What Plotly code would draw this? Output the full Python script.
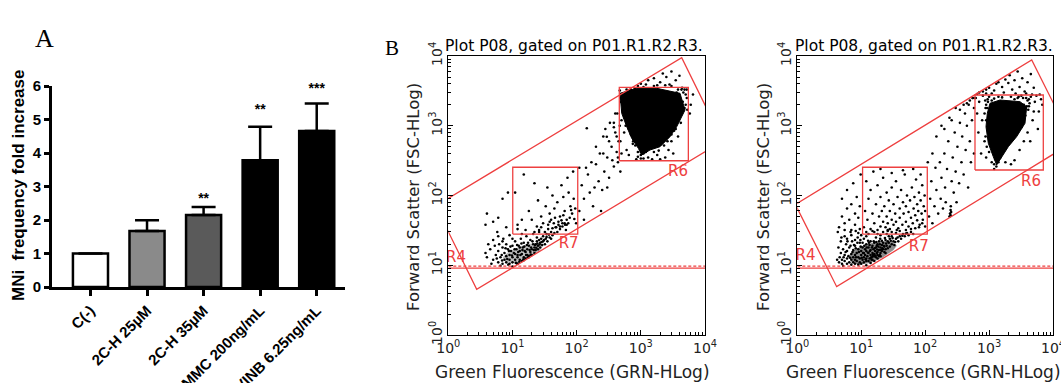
import plotly.graph_objects as go

W, H = 1061, 383
RED = "rgb(238,64,64)"

# ---------------- Panel A data ----------------
categories = ["C(-)", "2C-H 25µM", "2C-H 35µM", "MMC 200ng/mL", "VINB 6.25ng/mL"]
fold_increase = [1.0, 1.67, 2.15, 3.78, 4.66]
error_upper = [0.0, 0.32, 0.24, 1.0, 0.82]
significance = ["", "", "**", "**", "***"]
star_y = [None, None, 2.62, 5.27, 5.9]
bar_colors = ["#ffffff", "#8a8a8a", "#5a5a5a", "#000000", "#000000"]

# ---------------- Panel B data (flow cytometry) ----------------
decade_vals = [1, 10, 100, 1000, 10000]
decade_text = ["10<sup>0</sup>", "10<sup>1</sup>", "10<sup>2</sup>", "10<sup>3</sup>", "10<sup>4</sup>"]
plot_title = "Plot P08, gated on P01.R1.R2.R3."

# gates, plot 1
p1_r4_x = [0.634, 4335, 18923, 2.77, 0.634]
p1_r4_y = [70.8, 9462, 604, 4.52, 70.8]
p1_r6_x = [462, 5500, 5500, 462, 462]
p1_r6_y = [315, 315, 3560, 3560, 315]
p1_r7_x = [10.1, 104, 104, 10.1, 10.1]
p1_r7_y = [28, 28, 254, 254, 28]
p1_labels = ["R4", "R6", "R7"]
p1_label_x = [1.32, 3800, 75]
p1_label_y = [12.7, 219, 19.8]

# gates, plot 2
p2_r4_x = [0.934, 4645, 20560, 4.13, 0.934]
p2_r4_y = [74.3, 8770, 582, 4.93, 74.3]
p2_r6_x = [602, 7050, 7050, 602, 602]
p2_r6_y = [232, 232, 2760, 2760, 232]
p2_r7_x = [10.5, 108, 108, 10.5, 10.5]
p2_r7_y = [28, 28, 254, 254, 28]
p2_labels = ["R4", "R6", "R7"]
p2_label_x = [1.34, 4520, 79.5]
p2_label_y = [13.3, 154, 18.2]

# horizontal threshold line (R4 level)
thr_x = [1, 10000]
thr_solid_y = [9.1, 9.1]
thr_dash_y = [9.7, 9.7]

# dense event cores (outline of the saturated black area)
p1_core_x = [474, 863, 1770, 4083, 4887, 3622, 2851, 1991, 1390, 1033, 914, 721, 603, 504, 474]
p1_core_y = [2917, 3443, 3443, 2917, 1683, 968, 697, 501, 449, 381, 475, 661, 968, 1507, 2917]
p2_core_x = [1033, 1483, 3048, 3873, 3648, 2698, 2000, 1574, 1315, 1164, 973, 895, 938, 1033]
p2_core_y = [2099, 2339, 2213, 1875, 1084, 697, 501, 360, 274, 360, 560, 968, 1507, 2099]
# crowded (but not saturated) area of the low-signal population
p1_low_core_x = [8, 12, 18, 26, 30, 22, 14, 9, 7, 8]
p1_low_core_y = [11, 10.6, 12.8, 15.5, 19, 21, 19, 16, 13, 11]
p2_low_core_x = [7, 9, 14, 22, 32, 36, 30, 20, 12, 8, 6.5, 7]
p2_low_core_y = [11, 10.2, 10.8, 13, 16.5, 19, 22, 22, 20, 17, 14, 11]

# individual events, plot 1
p1_low_cluster = [
    (5, 12), (5.5, 14), (6, 11), (6, 16), (6.5, 13), (7, 10.5), (7, 18), (7.5, 12), (7.5, 15), (8, 11),
    (8, 13.5), (8, 20), (8.5, 17), (9, 10.5), (9, 12), (9, 14), (9.5, 16), (10, 11), (10, 13), (10, 19),
    (10.5, 15), (11, 12), (11, 22), (11.5, 17), (12, 10.5), (12, 14), (12, 13), (12.5, 19), (13, 12), (13, 16),
    (13.5, 24), (14, 11.5), (14, 14.5), (14.5, 18), (15, 13), (15, 21), (16, 12.5), (16, 15.5), (16.5, 26), (17, 17),
    (17, 14), (18, 13.5), (18, 19), (19, 23), (19, 15.5), (20, 14), (20, 17), (21, 28), (21, 20), (22, 15),
    (22, 18), (23, 16.5), (24, 22), (24, 25), (25, 17), (25, 19), (26, 30), (27, 18), (27, 21), (28, 24),
    (29, 19.5), (30, 22), (30, 26), (32, 20), (33, 24), (34, 28), (35, 22), (36, 33), (38, 25), (40, 24),
    (40, 30), (42, 27), (45, 29), (47, 35), (50, 30), (52, 38), (55, 33), (60, 36), (65, 40), (70, 38),
    (4, 13), (4.5, 17), (4.2, 20), (5, 23), (6, 26), (7, 22), (5.8, 30), (9, 27), (10, 24), (8, 35),
    (12, 33), (14, 28), (4.7, 10.5), (6.5, 9.8), (10, 9.6), (12, 10.5), (15, 11.8), (18, 13), (3.8, 15), (5.3, 19),
    (7.2, 24), (6.8, 14), (8.8, 16), (11, 14.5), (13, 18), (15.5, 16), (17.5, 21), (19.5, 18), (23, 20), (26, 23),
    (5.7, 12.5), (6.2, 20), (6.9, 11.7), (7.8, 17.5), (8.3, 12.3), (8.6, 10.2), (9.3, 18.5), (9.8, 13.8), (10.8, 17),
    (11.3, 10.8), (11.8, 19.5), (12.3, 15.5), (12.8, 11.2), (13.3, 14), (13.8, 20.5), (14.3, 16.5), (14.8, 12.2),
    (15.3, 18.5), (16.3, 14), (16.8, 19.5), (17.3, 12.9), (18.5, 16.5), (19.2, 14.2), (20.5, 22), (21.5, 16.5),
    (22.5, 19.5), (23.5, 17.8), (24.5, 20.5), (26.5, 19.8), (28.5, 21.5), (31, 23), (34, 25.5), (37, 27.5),
]
p1_r7_events = [
    (12, 38), (11, 110), (15, 200), (18, 60), (20, 45), (22, 150), (25, 85), (28, 50), (30, 40), (33, 70),
    (35, 130), (38, 55), (40, 45), (42, 100), (45, 65), (48, 35), (50, 80), (55, 50), (58, 140), (60, 40),
    (62, 95), (65, 60), (70, 45), (72, 180), (75, 110), (80, 70), (85, 55), (88, 220), (90, 90), (95, 65),
    (98, 40), (14, 45), (16, 32), (24, 36), (26, 32), (32, 30), (44, 40), (52, 42), (66, 38), (78, 48),
    (92, 46), (68, 32), (55, 36), (4, 55), (5, 42), (3.8, 38), (6, 48), (7, 90), (8.5, 110),
    (36, 38), (42, 34), (46, 48), (58, 44), (62, 52), (74, 40), (82, 62), (28, 35), (22, 30), (38, 42),
]
p1_band_events = [
    (110, 60), (120, 140), (130, 90), (150, 200), (160, 110), (180, 70), (200, 280), (220, 160), (230, 400), (250, 120),
    (270, 220), (300, 350), (320, 180), (350, 500), (380, 260), (400, 800), (420, 420), (450, 600), (200, 500), (170, 300),
    (140, 250), (260, 700), (300, 130), (130, 45), (240, 60), (330, 1100), (280, 900), (400, 1500), (360, 320), (190, 130),
    (440, 300), (470, 1000), (480, 220), (110, 250), (144, 919), (295, 697), (260, 400), (320, 600), (380, 950),
]
p1_r6_events = [
    (800, 3400), (1000, 4000), (1300, 4500), (1600, 4800), (2000, 4200), (2500, 5000), (3000, 6000), (3500, 4500),
    (4000, 5200), (1200, 3900), (1800, 3800), (2200, 5600), (900, 3700), (2800, 3900),
    (480, 600), (500, 1200), (520, 2000), (550, 800), (560, 2800), (600, 450), (620, 1500), (650, 380), (700, 900),
    (720, 2500), (750, 550), (800, 1700), (500, 400), (540, 1600), (580, 1000), (660, 3000), (700, 3300), (480, 2500),
    (510, 2600), (3000, 600), (3500, 900), (4000, 1500), (4500, 2200), (5000, 2800), (3200, 400), (3800, 700),
    (4200, 1100), (4800, 1800), (5200, 3300), (3600, 3000), (4300, 3300), (3300, 1300), (2700, 450), (2400, 350),
    (1800, 380), (1500, 330), (1300, 350), (1100, 400), (900, 420), (850, 330), (2000, 330), (420, 700), (380, 1100),
    (430, 1500), (440, 350), (1000, 380), (1000, 420), (1020, 460), (1000, 340), (6000, 2000), (6500, 2800), (5800, 1500),
    (470, 3200), (490, 2200), (520, 1700), (560, 1300), (600, 1100), (650, 900), (700, 750), (760, 600), (820, 520),
    (900, 360), (1100, 340), (1200, 420), (1600, 420), (1900, 440), (2300, 520), (2600, 600), (3000, 750), (3300, 850),
    (3800, 1200), (4300, 1500), (5000, 2000), (5200, 2500), (4800, 3300), (4400, 3500), (3800, 3300), (3000, 3700),
    (2400, 3800), (1600, 3700), (1100, 3600), (600, 3300), (530, 2900), (4600, 3000), (5300, 1700),
]

# individual events, plot 2
p2_low_cluster = [
    (4.5, 11), (4.6, 13), (4.8, 15), (5, 10.5), (5, 12), (5.2, 17), (5.5, 11.5), (5.5, 14), (5.8, 20), (6, 10.5),
    (6, 12.5), (6, 16), (6.3, 13.5), (6.5, 11), (6.5, 18), (7, 10.2), (7, 12), (7, 14.5), (7.2, 22), (7.5, 11),
    (7.5, 13), (7.5, 16.5), (8, 10.5), (8, 12), (8, 14), (8, 19), (8.5, 11.5), (8.5, 15), (8.8, 25), (9, 10.2),
    (9, 13), (9, 17), (9.5, 11), (9.5, 12.5), (9.5, 21), (10, 10.5), (10, 14), (10, 16), (10.5, 12), (10.5, 18),
    (11, 11), (11, 13), (11, 15), (11, 24), (11.5, 14), (12, 11.5), (12, 12.5), (12, 16), (12, 20), (12.5, 13.5),
    (13, 11.5), (13, 15), (13, 18), (13.5, 12.5), (14, 14), (14, 16.5), (14, 22), (14.5, 13), (15, 12), (15, 15),
    (15, 19), (15.5, 17), (16, 13.5), (16, 14.5), (16, 21), (16.5, 16), (17, 13), (17, 18), (17, 25), (18, 14),
    (18, 15.5), (18, 20), (19, 16.5), (19, 22), (20, 15), (20, 18), (20, 27), (21, 16), (21, 19.5), (22, 17),
    (22, 21), (23, 15.5), (23, 18.5), (24, 17), (24, 23), (25, 19), (25, 28), (26, 17.5), (27, 21), (28, 18.5),
    (28, 24), (30, 20), (30, 26), (32, 22), (33, 19.5), (35, 24), (35, 29), (38, 22), (40, 26), (42, 24),
    (45, 28), (48, 26), (52, 29), (55, 27), (60, 30), (65, 28), (7, 27), (9, 29), (6, 24), (5.5, 26),
    (4.8, 22), (10, 27), (13, 28), (16, 30), (12, 26), (18, 28), (22, 30), (26, 32), (8, 23), (10.5, 21),
    (5.2, 9.8), (12, 10), (14, 10.8), (16, 11.5), (18, 12.5), (20, 13.5), (24, 15), (11.5, 17), (13.5, 19.5), (14.5, 12),
    (15.5, 13.5), (17.5, 15), (19.5, 14), (21.5, 17.5), (6.8, 19), (8.2, 17.5), (9.8, 18.5), (12.8, 22.5), (17.5, 19), (19.5, 20),
    (4.2, 12), (4.4, 18), (4.9, 25), (5.3, 13), (5.7, 15.5), (6.1, 22), (6.7, 12.8), (7.3, 15.5), (7.7, 19.5), (8.3, 13),
    (8.7, 21), (9.2, 15.5), (9.7, 23), (10.2, 12.8), (10.7, 15), (11.2, 19), (11.7, 12.2), (12.2, 18), (12.7, 15.2),
    (13.2, 21), (13.7, 16), (14.2, 12.8), (14.7, 18), (15.2, 14), (15.7, 22), (16.2, 17.5), (16.7, 13.8), (17.2, 21.5),
    (17.8, 16.8), (18.5, 18.5), (19, 13.5), (19.8, 24), (20.5, 16.5), (21, 22.5), (22.5, 19), (23.5, 24.5), (24.5, 20.5),
    (26, 22), (27, 26), (29, 22.5), (31, 24.5), (34, 21.5), (37, 25), (44, 26.5), (50, 28.5),
]
p2_r7_events = [
    (4.5, 35), (5, 50), (5, 90), (5.5, 40), (6, 65), (6, 120), (6.5, 45), (7, 32), (7, 75), (7.5, 150),
    (8, 55), (8, 38), (8.5, 95), (9, 48), (9.5, 70), (9.8, 200), (4.3, 30), (5.5, 32), (6.8, 30), (8.2, 31),
    (9.5, 33), (11, 35), (11.5, 60), (12, 160), (12.5, 45), (13, 90), (14, 33), (14, 120), (15, 55), (15.5, 220),
    (16, 40), (17, 75), (18, 32), (18, 140), (19, 50), (20, 36), (20, 95), (21, 60), (22, 42), (22, 180),
    (23, 70), (24, 35), (25, 110), (25, 50), (26, 40), (27, 85), (28, 33), (28, 60), (30, 130), (30, 45),
    (32, 38), (32, 75), (34, 55), (35, 160), (35, 42), (37, 95), (38, 34), (40, 65), (40, 48), (42, 120),
    (44, 38), (45, 80), (46, 55), (48, 200), (50, 42), (50, 70), (52, 100), (55, 36), (55, 58), (58, 85),
    (60, 48), (62, 130), (64, 40), (66, 65), (68, 95), (70, 52), (72, 170), (75, 44), (75, 75), (78, 60),
    (80, 110), (82, 38), (85, 85), (88, 55), (90, 140), (92, 45), (95, 70), (98, 100), (100, 60), (45, 230),
    (65, 240), (30, 210), (85, 200), (20, 240), (12, 30), (15, 31), (30, 30), (40, 31), (50, 32), (60, 33),
    (70, 34), (80, 35), (90, 40), (100, 36), (36, 32), (26, 31),
]
p2_band_events = [
    (115, 50), (120, 90), (125, 160), (130, 40), (140, 70), (145, 250), (150, 120), (160, 55), (170, 300), (175, 90),
    (180, 180), (190, 65), (200, 400), (205, 130), (210, 80), (220, 240), (230, 600), (240, 50), (245, 55), (250, 52),
    (250, 62), (255, 58), (252, 70), (260, 160), (270, 350), (280, 110), (290, 800), (300, 220), (310, 80), (320, 500),
    (340, 150), (350, 1100), (370, 300), (380, 700), (400, 200), (420, 1500), (430, 450), (450, 1000), (470, 130), (480, 2000),
    (500, 600), (520, 300), (540, 1200), (560, 2500), (580, 400), (200, 900), (260, 1200), (300, 1800), (350, 1700), (240, 1300),
    (150, 700), (180, 1000), (130, 400), (110, 300), (400, 2000), (500, 2300), (450, 2100), (550, 2500), (580, 1800),
]
p2_r6_events = [
    (700, 3000), (800, 3100), (900, 2900), (1000, 3500), (1200, 3200), (1400, 4200), (1600, 3600), (1800, 4600),
    (2000, 4100), (2300, 3300), (2500, 4500), (2800, 6000), (3000, 3600), (3300, 4800), (3600, 3100), (4000, 4200),
    (4500, 5500), (5000, 3500), (1100, 2900), (1700, 3000), (2600, 2900), (3800, 2900), (1300, 4000), (2100, 5300),
    (900, 3300), (600, 2500), (650, 2850),
    (620, 2500), (650, 1500), (680, 800), (700, 2200), (750, 400), (780, 1200), (800, 2700), (850, 600), (880, 1800),
    (900, 350), (950, 2400), (950, 900), (3800, 2500), (4200, 1900), (4500, 2600), (4800, 1200), (5200, 2200),
    (5500, 2700), (6000, 1600), (6500, 2400), (4000, 800), (3500, 600), (3000, 450), (4400, 600), (2500, 320),
    (2200, 280), (1800, 300), (1500, 350), (1300, 260), (1200, 240), (1400, 300), (1250, 330), (6800, 2000),
    (6200, 2800), (5800, 900), (4700, 2800), (3200, 2700), (2900, 2600), (1000, 2600), (1100, 2300), (900, 2000), (5000, 1600),
    (960, 2200), (930, 1800), (900, 1200), (880, 700), (920, 500), (1000, 420), (1100, 300), (1200, 280), (1450, 420),
    (1700, 500), (2200, 600), (2600, 800), (3200, 950), (3700, 1400), (4100, 1700), (4300, 2100), (4000, 2300),
    (3400, 2500), (2800, 2500), (2200, 2600), (1600, 2550), (1200, 2450), (850, 1500), (870, 2300), (1400, 2600),
    (2500, 2400), (3500, 2000), (4200, 2400), (3900, 1900),
]

# ---------------- Figure ----------------
fig = go.Figure()

# Panel A bars
fig.add_trace(go.Bar(
    x=categories, y=fold_increase, width=0.62,
    marker=dict(color=bar_colors, line=dict(color="black", width=2.5)),
    error_y=dict(type="data", symmetric=False, array=error_upper, arrayminus=[0] * len(error_upper),
                 color="black", thickness=2.5, width=12),
    xaxis="x", yaxis="y", showlegend=False, hoverinfo="skip",
))
star_cats = [c for c, s in zip(categories, significance) if s]
star_vals = [v for v, s in zip(star_y, significance) if s]
star_txt = [s for s in significance if s]
fig.add_trace(go.Scatter(
    x=star_cats, y=star_vals, text=star_txt, mode="text",
    textfont=dict(family="Liberation Sans, Arial", size=14, color="black", weight="bold"),
    xaxis="x", yaxis="y", showlegend=False, hoverinfo="skip", cliponaxis=False,
))


def split(pairs):
    return [p[0] for p in pairs], [p[1] for p in pairs]


def add_cyto(ax, ay, low_x, low_y, core_x, core_y, event_groups, gates, lab, lab_x, lab_y, low_alpha):
    fig.add_trace(go.Scatter(x=low_x, y=low_y, mode="lines", fill="toself",
                             fillcolor=f"rgba(0,0,0,{low_alpha})", line=dict(width=0),
                             xaxis=ax, yaxis=ay, showlegend=False, hoverinfo="skip"))
    fig.add_trace(go.Scatter(x=core_x, y=core_y, mode="lines", fill="toself", fillcolor="black",
                             line=dict(color="black", width=1), xaxis=ax, yaxis=ay,
                             showlegend=False, hoverinfo="skip"))
    for grp in event_groups:
        ex, ey = split(grp)
        fig.add_trace(go.Scatter(x=ex, y=ey, mode="markers",
                                 marker=dict(color="black", size=2.6, line=dict(width=0)),
                                 xaxis=ax, yaxis=ay, showlegend=False, hoverinfo="skip"))
    for gx, gy in gates:
        fig.add_trace(go.Scatter(x=gx, y=gy, mode="lines", line=dict(color=RED, width=1.3),
                                 xaxis=ax, yaxis=ay, showlegend=False, hoverinfo="skip"))
    fig.add_trace(go.Scatter(x=thr_x, y=thr_solid_y, mode="lines", line=dict(color=RED, width=1.4),
                             xaxis=ax, yaxis=ay, showlegend=False, hoverinfo="skip"))
    fig.add_trace(go.Scatter(x=thr_x, y=thr_dash_y, mode="lines", line=dict(color=RED, width=1.4, dash="3px,2px"),
                             xaxis=ax, yaxis=ay, showlegend=False, hoverinfo="skip"))
    fig.add_trace(go.Scatter(x=lab_x, y=lab_y, text=lab, mode="text", cliponaxis=False,
                             textfont=dict(family="DejaVu Sans", size=15, color=RED),
                             xaxis=ax, yaxis=ay, showlegend=False, hoverinfo="skip"))


add_cyto("x2", "y2", p1_low_core_x, p1_low_core_y, p1_core_x, p1_core_y,
         [p1_low_cluster, p1_r7_events, p1_band_events, p1_r6_events],
         [(p1_r4_x, p1_r4_y), (p1_r6_x, p1_r6_y), (p1_r7_x, p1_r7_y)],
         p1_labels, p1_label_x, p1_label_y, 0.25)
add_cyto("x3", "y3", p2_low_core_x, p2_low_core_y, p2_core_x, p2_core_y,
         [p2_low_cluster, p2_r7_events, p2_band_events, p2_r6_events],
         [(p2_r4_x, p2_r4_y), (p2_r6_x, p2_r6_y), (p2_r7_x, p2_r7_y)],
         p2_labels, p2_label_x, p2_label_y, 0.45)

bold = dict(family="Liberation Sans, Arial", color="black", weight="bold")
minor_vals = [m * 10 ** d for d in range(4) for m in range(2, 10)]


def cyto_axis(domain, anchor, is_y):
    d = dict(domain=domain, anchor=anchor, type="log", range=[0, 4], automargin=False,
             showline=True, mirror=True, linecolor="black", linewidth=1,
             showgrid=False, zeroline=False, ticklabeloverflow="allow",
             ticks="inside", ticklen=5, tickcolor="black", tickwidth=1,
             tickmode="array", tickvals=decade_vals, ticktext=decade_text,
             tickfont=dict(family="DejaVu Sans", size=14, color="#222"),
             minor=dict(tickmode="array", tickvals=minor_vals, ticks="inside", ticklen=3,
                        tickcolor="black", tickwidth=1, showgrid=False))
    if is_y:
        d["tickangle"] = -90
    return d


ydom_b = [1 - 335 / H, 1 - 56 / H]
fig.update_layout(
    template="none",
    width=W, height=H, margin=dict(l=0, r=0, t=0, b=0, autoexpand=False),
    paper_bgcolor="white", plot_bgcolor="white", showlegend=False,
    xaxis=dict(domain=[52 / W, 345 / W], anchor="y", type="category", range=[-0.68, 4.5], automargin=False,
               showline=True, linecolor="black", linewidth=3, showgrid=False, zeroline=False,
               ticks="outside", ticklen=6, tickwidth=3, tickcolor="black", tickangle=-45,
               tickfont=dict(size=15, **bold)),
    yaxis=dict(domain=[1 - 287 / H, 1 - 86 / H], anchor="x", range=[0, 6], dtick=1, automargin=False,
               showline=True, linecolor="black", linewidth=3, showgrid=False, zeroline=False,
               ticks="outside", ticklen=5, tickwidth=3, tickcolor="black",
               tickfont=dict(size=15, **bold)),
    xaxis2=cyto_axis([448.3 / W, 705 / W], "y2", False),
    yaxis2=cyto_axis(ydom_b, "x2", True),
    xaxis3=cyto_axis([797.3 / W, 1053 / W], "y3", False),
    yaxis3=cyto_axis(ydom_b, "x3", True),
)

axis_font = dict(family="DejaVu Sans", color="#222")
ann = [
    dict(text="A", x=44 / W, y=1 - 38 / H, font=dict(family="Liberation Serif", size=26, color="black")),
    dict(text="B", x=392 / W, y=1 - 48 / H, font=dict(family="Liberation Serif", size=21, color="black")),
    dict(text="MNi  frequency fold increase", x=18 / W, y=1 - 186 / H, textangle=-90,
         font=dict(size=17, **bold)),
    dict(text=plot_title, x=574 / W, y=1 - 46 / H, font=dict(family="DejaVu Sans", size=15.5, color="black")),
    dict(text=plot_title, x=924 / W, y=1 - 46 / H, font=dict(family="DejaVu Sans", size=15.5, color="black")),
    dict(text="Green Fluorescence (GRN-HLog)", x=572 / W, y=1 - 372 / H, font=dict(size=17, **axis_font)),
    dict(text="Green Fluorescence (GRN-HLog)", x=923 / W, y=1 - 372 / H, font=dict(size=17, **axis_font)),
    dict(text="Forward Scatter (FSC-HLog)", x=413 / W, y=1 - 197 / H, textangle=-90, font=dict(size=16.5, **axis_font)),
    dict(text="Forward Scatter (FSC-HLog)", x=763 / W, y=1 - 197 / H, textangle=-90, font=dict(size=16.5, **axis_font)),
]
for a in ann:
    a.update(xref="paper", yref="paper", showarrow=False, xanchor="center", yanchor="middle")
fig.update_layout(annotations=ann)

fig.write_html("out.html", config={"displayModeBar": False})
